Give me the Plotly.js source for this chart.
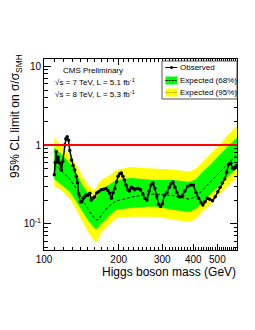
<!DOCTYPE html>
<html>
<head>
<meta charset="utf-8">
<script src="https://cdn.plot.ly/plotly-3.0.1.min.js"></script>
<style>html,body{margin:0;padding:0;background:#fff;}#chart{width:255px;height:330px;}</style>
</head>
<body>
<div id="chart"></div>
<script>
// ---- data ----
const bandMass = [110,115,120,127,135,144,150,158,162,166,170,176,185,196,210,225,250,275,300,330,360,385,410,437,465,494,525,558,600];
const expMedian = [0.58,0.50,0.44,0.37,0.28,0.195,0.155,0.123,0.112,0.113,0.125,0.148,0.172,0.195,0.205,0.218,0.23,0.238,0.235,0.228,0.215,0.205,0.22,0.27,0.33,0.41,0.50,0.61,0.76];
const exp68Up = [0.93,0.82,0.72,0.585,0.44,0.30,0.25,0.21,0.21,0.24,0.27,0.29,0.32,0.36,0.37,0.38,0.37,0.36,0.36,0.36,0.35,0.34,0.37,0.46,0.55,0.68,0.82,1.0,1.25];
const exp68Down = [0.37,0.33,0.30,0.255,0.19,0.135,0.112,0.09,0.085,0.09,0.10,0.11,0.13,0.15,0.155,0.158,0.163,0.165,0.16,0.15,0.145,0.142,0.155,0.19,0.23,0.28,0.34,0.415,0.51];
const exp95Up = [1.25,1.05,0.92,0.75,0.56,0.38,0.32,0.27,0.28,0.33,0.36,0.38,0.42,0.48,0.51,0.53,0.51,0.50,0.50,0.49,0.47,0.46,0.50,0.61,0.74,0.91,1.12,1.4,1.75];
const exp95Down = [0.30,0.28,0.25,0.21,0.15,0.10,0.08,0.063,0.058,0.065,0.077,0.085,0.10,0.117,0.12,0.123,0.123,0.123,0.118,0.112,0.108,0.106,0.115,0.142,0.17,0.21,0.255,0.31,0.39];

const obsMass = [110,111,112,113,114,116,117.5,119,121,122.5,124,125.5,127,129,131,133,135,136.5,138,140,142,144,146,148,150,153,155,157,160,163,166,170,174,178,181,184,187,190,193,196,199,202,205,208,211,214,218,221,225,229,232,236,240,245,250,255,260,265,270,275,280,285,290,295,300,306,313,320,325,331,337,343,350,356,362,370,380,390,400,410,420,430,437,446,456,466,478,490,502,513,524,535,545,555,566,575,584,592,600];
const observed = [0.42,0.60,0.82,0.61,0.70,0.585,0.48,0.62,1.0,1.2,1.27,1.15,0.85,0.645,0.55,0.48,0.40,0.33,0.24,0.19,0.19,0.21,0.22,0.232,0.23,0.243,0.20,0.21,0.22,0.245,0.255,0.27,0.275,0.28,0.265,0.243,0.21,0.25,0.28,0.34,0.40,0.43,0.44,0.40,0.36,0.31,0.27,0.26,0.29,0.28,0.27,0.28,0.28,0.27,0.24,0.21,0.20,0.26,0.31,0.33,0.28,0.22,0.175,0.165,0.18,0.23,0.25,0.29,0.32,0.34,0.29,0.25,0.22,0.22,0.23,0.26,0.30,0.31,0.31,0.25,0.21,0.185,0.173,0.19,0.21,0.205,0.196,0.22,0.255,0.29,0.33,0.37,0.45,0.57,0.585,0.51,0.50,0.53,0.55];

const xTickVals = [100,200,300,400,500];
const xTickText = ['100','200','300','400','500'];
const xMinorVals = [110,120,130,140,150,160,170,180,190,210,220,230,240,250,260,270,280,290,310,320,330,340,350,360,370,380,390,410,420,430,440,450,460,470,480,490,510,520,530,540,550,560,570,580,590,600];
const yTickVals = [0.1,1,10];
const yTickText = ['10<sup>-1</sup>','1','10'];
const yMinorVals = [0.05,0.06,0.07,0.08,0.09,0.2,0.3,0.4,0.5,0.6,0.7,0.8,0.9,2,3,4,5,6,7,8,9];

const FONT = 'Liberation Sans, Arial, Helvetica, sans-serif';

// pixel -> paper helpers (plot area: x 44..237, y 59..250)
const L=44, R=237, T=59, B=250;
const px = x => (x-L)/(R-L);
const py = y => (B-y)/(B-T);

const traces = [
  {x:bandMass, y:exp95Down, mode:'lines', line:{width:0, color:'#ffff00'}, hoverinfo:'skip'},
  {x:bandMass, y:exp95Up, mode:'lines', fill:'tonexty', fillcolor:'#ffff00', line:{width:0, color:'#ffff00'}, hoverinfo:'skip'},
  {x:bandMass, y:exp68Down, mode:'lines', line:{width:0, color:'#00ff00'}, hoverinfo:'skip'},
  {x:bandMass, y:exp68Up, mode:'lines', fill:'tonexty', fillcolor:'#00ff00', line:{width:0, color:'#00ff00'}, hoverinfo:'skip'},
  {x:bandMass, y:expMedian, mode:'lines', line:{color:'black', width:1, dash:'3px,2px'}},
  {x:obsMass, y:observed, mode:'lines+markers', line:{color:'black', width:1.5}, marker:{color:'black', size:3.5}}
];

const shapes = [
  {type:'line', xref:'paper', yref:'y', x0:0, x1:1, y0:1, y1:1, line:{color:'#ff0000', width:2}},
  // legend box
  {type:'rect', xref:'paper', yref:'paper', x0:px(162), x1:px(237), y0:py(99), y1:py(61), fillcolor:'white', line:{color:'#555', width:1}},
  {type:'line', xref:'paper', yref:'paper', x0:px(165.5), x1:px(177.5), y0:py(67.5), y1:py(67.5), line:{color:'black', width:1}},
  {type:'circle', xref:'paper', yref:'paper', x0:px(170), x1:px(173), y0:py(69), y1:py(66), fillcolor:'black', line:{color:'black', width:0}},
  {type:'rect', xref:'paper', yref:'paper', x0:px(165.5), x1:px(177.5), y0:py(84.5), y1:py(76.5), fillcolor:'#00ff00', line:{width:0}},
  {type:'line', xref:'paper', yref:'paper', x0:px(165.5), x1:px(177.5), y0:py(80.5), y1:py(80.5), line:{color:'black', width:1, dash:'2px,1px'}},
  {type:'rect', xref:'paper', yref:'paper', x0:px(165.5), x1:px(177.5), y0:py(96.5), y1:py(88.5), fillcolor:'#ffff00', line:{width:0}},
  {type:'line', xref:'paper', yref:'paper', x0:px(165.5), x1:px(177.5), y0:py(92.5), y1:py(92.5), line:{color:'#b8a000', width:1, dash:'2px,1px'}}
];

const ann = (text, x, y, size, extra) => Object.assign({text, xref:'paper', yref:'paper', x:px(x), y:py(y), xanchor:'left', yanchor:'middle', showarrow:false, font:{family:FONT, size, color:'#000000'}, borderpad:0}, extra||{});

const annotations = [
  ann('Observed', 179, 67.5, 8),
  ann('Expected (68%)', 179, 80.5, 8),
  ann('Expected (95%)', 179, 92.5, 8),
  ann('CMS Preliminary', 62, 70, 8),
  ann('√s = 7 TeV, L = 5.1 fb<sup>-1</sup>', 54, 82, 8),
  ann('√s = 8 TeV, L = 5.3 fb<sup>-1</sup>', 54, 93.5, 8),
  ann('Higgs boson mass (GeV)', 237, 272, 12, {xanchor:'right'}),
  ann('95% CL limit on σ/σ<sub>SMH</sub>', 16, 53, 12, {xanchor:'center', yanchor:'top', textangle:-90})
];

const axisCommon = {
  type:'log', showline:true, linecolor:'black', linewidth:1, mirror:'ticks',
  ticks:'inside', tickcolor:'black', tickwidth:1, showgrid:false, zeroline:false,
  tickfont:{family:FONT, size:10, color:'black'}
};

const layout = {
  width:255, height:330,
  margin:{l:L, r:255-R, t:T, b:330-B, pad:0},
  paper_bgcolor:'white', plot_bgcolor:'white',
  showlegend:false,
  xaxis:Object.assign({}, axisCommon, {
    range:[2, Math.log10(600)], tickmode:'array', tickvals:xTickVals, ticktext:xTickText, ticklen:6,
    minor:{tickmode:'array', tickvals:xMinorVals, ticks:'inside', ticklen:3, tickcolor:'black', showgrid:false}
  }),
  yaxis:Object.assign({}, axisCommon, {
    range:[-1.334, 1.093], tickmode:'array', tickvals:yTickVals, ticktext:yTickText, ticklen:7,
    minor:{tickmode:'array', tickvals:yMinorVals, ticks:'inside', ticklen:3.5, tickcolor:'black', showgrid:false}
  }),
  shapes, annotations
};

Plotly.newPlot('chart', traces, layout, {staticPlot:true, displayModeBar:false});
</script>
</body>
</html>
